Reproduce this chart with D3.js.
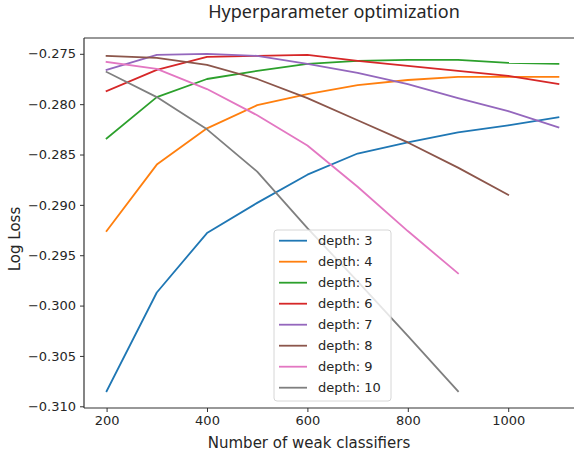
<!DOCTYPE html>
<html lang="en">
<head>
    <meta charset="UTF-8">
    <title>Hyperparameter optimization</title>
    <script src="https://d3js.org/d3.v7.min.js"></script>
    <style>
        body, html {
            margin: 0;
            padding: 0;
            background: #fff;
            overflow: hidden;
        }
        text {
            font-family: "DejaVu Sans", sans-serif;
            fill: #262626;
        }
    </style>
</head>
<body>
    <div id="chart"></div>
    <script>
        // number of weak classifiers
        const estimators = [200, 300, 400, 500, 600, 700, 800, 900, 1000, 1100];

        // log loss per depth
        const depth3 = [-0.3085, -0.2987, -0.2928, -0.2898, -0.2870, -0.2849, -0.2838, -0.2828, -0.2821, -0.2813];
        const depth4 = [-0.2926, -0.2860, -0.2824, -0.2801, -0.2790, -0.2781, -0.2776, -0.2773, -0.2773, -0.2773];
        const depth5 = [-0.2834, -0.2793, -0.2775, -0.2767, -0.2760, -0.2757, -0.2756, -0.2756, -0.2759, -0.2760];
        const depth6 = [-0.2787, -0.2766, -0.2753, -0.2752, -0.2751, -0.2757, -0.2762, -0.2767, -0.2772, -0.2780];
        const depth7 = [-0.2766, -0.2751, -0.2750, -0.2752, -0.2760, -0.2769, -0.2780, -0.2794, -0.2807, -0.2823];
        const depth8 = [-0.2752, -0.2754, -0.2761, -0.2775, -0.2794, -0.2816, -0.2838, -0.2863, -0.2890];
        const depth9 = [-0.2758, -0.2765, -0.2785, -0.2811, -0.2841, -0.2882, -0.2926, -0.2968];
        const depth10 = [-0.2768, -0.2793, -0.2825, -0.2867, -0.2923, -0.2976, -0.3030, -0.3085];

        const seriesLabels = ["depth: 3", "depth: 4", "depth: 5", "depth: 6", "depth: 7", "depth: 8", "depth: 9", "depth: 10"];
        const seriesValues = [depth3, depth4, depth5, depth6, depth7, depth8, depth9, depth10];
        const colors = ["#1f77b4", "#ff7f0e", "#2ca02c", "#d62728", "#9467bd", "#8c564b", "#e377c2", "#7f7f7f"];

        const xTicks = [200, 400, 600, 800, 1000];
        const yTicks = [-0.275, -0.280, -0.285, -0.290, -0.295, -0.300, -0.305, -0.310];

        const width = 574, height = 459;
        const plotL = 84, plotT = 38, plotR = 581, plotB = 408;

        const svg = d3.select("#chart").append("svg")
            .attr("width", width)
            .attr("height", height);

        const x = d3.scaleLinear().domain([155, 1145]).range([plotL, plotR]);
        const y = d3.scaleLinear().domain([-0.31017, -0.27343]).range([plotB, plotT]);

        svg.append("clipPath").attr("id", "plot-clip")
            .append("rect")
            .attr("x", plotL).attr("y", plotT)
            .attr("width", plotR - plotL).attr("height", plotB - plotT);

        // lines
        const line = d3.line()
            .x((d, i) => x(estimators[i]))
            .y(d => y(d));

        svg.append("g")
            .attr("clip-path", "url(#plot-clip)")
            .selectAll("path")
            .data(seriesValues)
            .enter().append("path")
            .attr("d", d => line(d))
            .attr("fill", "none")
            .attr("stroke", (d, i) => colors[i])
            .attr("stroke-width", 1.8)
            .attr("stroke-linejoin", "round")
            .attr("stroke-linecap", "square");

        // axes
        const xAxis = svg.append("g")
            .attr("transform", `translate(0,${plotB})`)
            .call(d3.axisBottom(x).tickValues(xTicks).tickSize(4).tickPadding(4).tickFormat(d3.format("d")));

        const yAxis = svg.append("g")
            .attr("transform", `translate(${plotL},0)`)
            .call(d3.axisLeft(y).tickValues(yTicks).tickSize(4).tickPadding(4).tickFormat(d => d3.format(".3f")(d).replace("-", "\u2212")));

        [xAxis, yAxis].forEach(ax => {
            ax.select(".domain").remove();
            ax.selectAll("line").attr("stroke", "#333").attr("stroke-width", 1);
            ax.selectAll("text")
                .style("font-family", "'DejaVu Sans', sans-serif")
                .style("font-size", "13px")
                .attr("fill", "#262626");
        });

        // spines (right one falls outside the picture)
        const spine = svg.append("g").attr("stroke", "#333").attr("stroke-width", 1.2).attr("fill", "none");
        spine.append("line").attr("x1", plotL).attr("x2", plotL).attr("y1", plotT).attr("y2", plotB);
        spine.append("line").attr("x1", plotL).attr("x2", plotR).attr("y1", plotT).attr("y2", plotT);
        spine.append("line").attr("x1", plotL).attr("x2", plotR).attr("y1", plotB).attr("y2", plotB);
        spine.append("line").attr("x1", plotR).attr("x2", plotR).attr("y1", plotT).attr("y2", plotB);

        // title and axis labels
        svg.append("text")
            .attr("x", 334)
            .attr("y", 18)
            .attr("text-anchor", "middle")
            .style("font-family", "'Noto Sans', sans-serif")
            .style("font-size", "18px")
            .text("Hyperparameter optimization");

        svg.append("text")
            .attr("x", 309)
            .attr("y", 448)
            .attr("text-anchor", "middle")
            .style("font-size", "15px")
            .text("Number of weak classifiers");

        svg.append("text")
            .attr("transform", "translate(20,239) rotate(-90)")
            .attr("text-anchor", "middle")
            .style("font-size", "15px")
            .text("Log Loss");

        // legend
        const lg = svg.append("g").attr("transform", "translate(274,230)");
        lg.append("rect")
            .attr("width", 117)
            .attr("height", 171)
            .attr("rx", 3)
            .attr("fill", "#fff")
            .attr("fill-opacity", 0.8)
            .attr("stroke", "#d6d6d6")
            .attr("stroke-width", 1);

        const rows = lg.selectAll("g.row")
            .data(seriesLabels)
            .enter().append("g")
            .attr("class", "row")
            .attr("transform", (d, i) => `translate(0,${10.7 + i * 21})`);

        rows.append("line")
            .attr("x1", 5).attr("x2", 33)
            .attr("y1", 0).attr("y2", 0)
            .attr("stroke", (d, i) => colors[i])
            .attr("stroke-width", 1.8);

        rows.append("text")
            .attr("x", 44)
            .attr("y", 0)
            .attr("dy", "0.35em")
            .style("font-size", "13px")
            .text(d => d);
    </script>
</body>
</html>
